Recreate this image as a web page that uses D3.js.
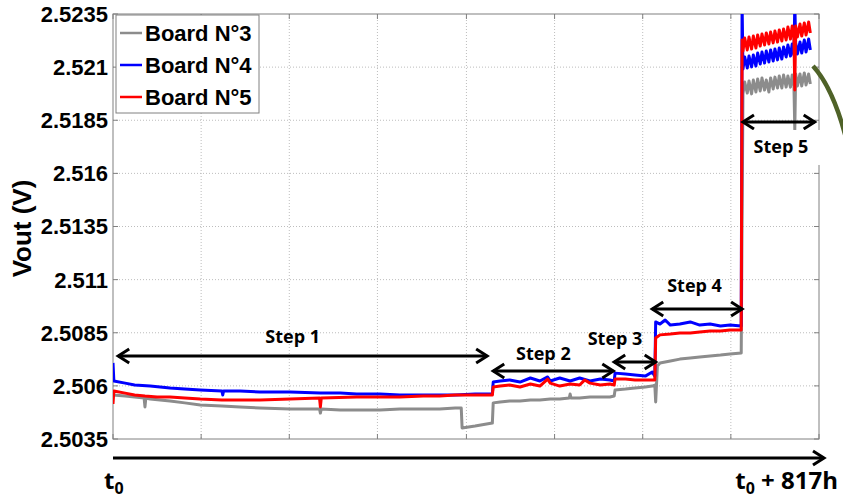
<!DOCTYPE html>
<html>
<head>
<meta charset="utf-8">
<script src="https://cdn.jsdelivr.net/npm/d3@7"></script>
<style>
  body { margin: 0; background: #fff; }
  svg { display: block; }
</style>
</head>
<body>
<script>
// Valores del eje Y (V) y divisiones del eje X (horas)
var yTicks = [2.5035, 2.506, 2.5085, 2.511, 2.5135, 2.516, 2.5185, 2.521, 2.5235];
var xTicks = [0, 102, 204, 306, 409, 511, 613, 715, 817];

var boardNames = ["Board N°3", "Board N°4", "Board N°5"];
var boardColors = ["#8c8c8c", "#0000ff", "#ff0000"];

// [hora, Vout]
var board3 = [
  [0, 2.50557], [14, 2.50552], [25, 2.50548], [36, 2.50543], [37, 2.50501], [38, 2.50543],
  [43, 2.50538], [66, 2.50529], [83, 2.5052], [101, 2.5051], [126, 2.50505], [147, 2.50501],
  [170, 2.50496], [205, 2.50491], [239, 2.50491], [240, 2.50472], [241, 2.50491], [263, 2.50486],
  [282, 2.50486], [309, 2.50486], [332, 2.50491], [359, 2.50491], [378, 2.50491], [396, 2.50496],
  [403, 2.50496], [404, 2.50402], [419, 2.50411], [439, 2.50425],
  [440, 2.5052], [448, 2.50524], [459, 2.50529], [471, 2.50529], [483, 2.50534], [494, 2.50534],
  [506, 2.50538], [517, 2.50538], [528, 2.50543], [529, 2.50562], [530, 2.50543], [540, 2.50543],
  [552, 2.50548], [564, 2.50548], [575, 2.50548], [580, 2.50552],
  [581, 2.50581], [593, 2.50585], [604, 2.5059], [616, 2.50595], [624, 2.50599], [627, 2.50604],
  [628, 2.50524], [630, 2.50694], [633, 2.50708], [645, 2.50717], [656, 2.50726], [668, 2.50731],
  [679, 2.50736], [691, 2.50741], [703, 2.50745], [714, 2.5075], [727, 2.50755],
  [729, 2.51974], [731, 2.5203], [734, 2.51978], [736, 2.52035], [739, 2.51974], [741, 2.52039],
  [744, 2.51983], [746, 2.52044], [749, 2.51988], [751, 2.52049], [754, 2.51992], [756, 2.52039],
  [759, 2.51983], [761, 2.52049], [764, 2.51997], [766, 2.52053], [769, 2.52002], [771, 2.52058],
  [774, 2.52002], [776, 2.52063], [779, 2.52006], [781, 2.52058], [784, 2.52006], [786, 2.52063],
  [788, 2.52011], [789, 2.51804], [790, 2.52068], [792, 2.52011], [795, 2.52068], [797, 2.52011],
  [800, 2.52072], [802, 2.52016], [805, 2.52068], [807, 2.52021]
];

var board4 = [
  [0, 2.50708], [1, 2.50623], [14, 2.50613], [25, 2.50604], [43, 2.50599], [66, 2.5059],
  [83, 2.50585], [101, 2.50581], [126, 2.50576], [127, 2.50557], [128, 2.50576], [147, 2.50576],
  [170, 2.50571], [205, 2.50571], [240, 2.50566], [263, 2.50566], [282, 2.50562], [309, 2.50562],
  [332, 2.50557], [359, 2.50557], [378, 2.50557], [396, 2.50557], [419, 2.50562], [439, 2.50562],
  [440, 2.50618], [448, 2.50623], [459, 2.50628], [471, 2.50618], [483, 2.50637], [494, 2.50623],
  [503, 2.50642], [506, 2.50623], [517, 2.50637], [529, 2.50623], [540, 2.50637], [552, 2.50623],
  [564, 2.50632], [575, 2.50628], [580, 2.50623],
  [581, 2.5066], [593, 2.50656], [604, 2.50651], [616, 2.50646], [624, 2.50665], [627, 2.50646],
  [628, 2.50901], [633, 2.50891], [639, 2.5091], [645, 2.50886], [656, 2.50891], [668, 2.50901],
  [679, 2.50886], [691, 2.50891], [703, 2.50882], [714, 2.50886], [727, 2.50882],
  [728, 2.524], [729, 2.52091], [731, 2.52148], [734, 2.52096], [736, 2.52152], [739, 2.52101],
  [741, 2.52157], [744, 2.52105], [746, 2.52166], [749, 2.52115], [751, 2.52171], [754, 2.52119],
  [756, 2.52176], [759, 2.52124], [761, 2.52181], [764, 2.52129], [766, 2.52185], [769, 2.52134],
  [771, 2.5219], [774, 2.52138], [776, 2.52195], [779, 2.52148], [781, 2.52204], [784, 2.52152],
  [786, 2.52209], [788, 2.52157], [789, 2.524], [790, 2.52214], [792, 2.52162], [795, 2.52218],
  [797, 2.52166], [800, 2.52228], [802, 2.52171], [805, 2.52232], [807, 2.52181]
];

var board5 = [
  [0, 2.50515], [1, 2.50576], [14, 2.50566], [25, 2.50557], [37, 2.50552], [51, 2.50548],
  [66, 2.50548], [83, 2.50543], [101, 2.50538], [126, 2.50534], [147, 2.50534], [170, 2.50534],
  [205, 2.50538], [239, 2.50543], [240, 2.50501], [241, 2.50543], [282, 2.50548], [309, 2.50548],
  [332, 2.50548], [359, 2.50552], [378, 2.50552], [396, 2.50557], [419, 2.50557], [439, 2.50557],
  [440, 2.50595], [448, 2.50599], [459, 2.50604], [471, 2.50595], [483, 2.50609], [494, 2.50599],
  [503, 2.50632], [506, 2.50613], [517, 2.50599], [529, 2.50609], [540, 2.50604], [546, 2.50628],
  [552, 2.50613], [564, 2.50604], [575, 2.50609], [580, 2.50604],
  [581, 2.50632], [593, 2.50632], [604, 2.50628], [616, 2.50628], [627, 2.50628],
  [628, 2.50825], [633, 2.5084], [645, 2.50844], [656, 2.50849], [668, 2.50849], [679, 2.50853],
  [691, 2.50858], [703, 2.50858], [714, 2.50863], [727, 2.50863],
  [728, 2.52228], [729, 2.52176], [731, 2.52237], [734, 2.52181], [736, 2.52242], [739, 2.52185],
  [741, 2.52246], [744, 2.5219], [746, 2.52251], [749, 2.52199], [751, 2.52256], [754, 2.52204],
  [756, 2.52261], [759, 2.52209], [761, 2.52265], [764, 2.52214], [766, 2.5227], [769, 2.52218],
  [771, 2.52275], [774, 2.52223], [776, 2.52279], [779, 2.52228], [781, 2.52289], [784, 2.52232],
  [786, 2.52294], [788, 2.52237], [789, 2.51992], [790, 2.52294], [792, 2.52242], [795, 2.52303],
  [797, 2.52246], [800, 2.52308], [802, 2.52251], [805, 2.52312], [807, 2.52261]
];

// Etapas: inicio, fin (horas), nivel de la flecha (V), posición de la etiqueta
var stepNames = ["Step 1", "Step 2", "Step 3", "Step 4", "Step 5"];
var stepStart = [6, 440, 580, 624, 729];
var stepEnd = [433, 579, 628, 728, 812];
var stepLevel = [2.50741, 2.5067, 2.50712, 2.50962, 2.51842];
var stepLabelHour = [208, 498, 581, 673, 773];
var stepLabelLevel = [2.50802, 2.50722, 2.50792, 2.51042, 2.51696];

var W = 843, H = 501;
var svg = d3.select("body").append("svg")
  .attr("width", W)
  .attr("height", H);

var x = d3.scaleLinear().domain([0, 817]).range([113, 819]);
var y = d3.scaleLinear().domain([2.5035, 2.5235]).range([439, 14]);

var x0 = x.range()[0], x1 = x.range()[1];
var yTop = y.range()[1], yBot = y.range()[0];

// Rejilla punteada
svg.append("g").selectAll("line")
  .data(xTicks.slice(1, -1))
  .enter().append("line")
  .attr("x1", d => x(d)).attr("x2", d => x(d))
  .attr("y1", yTop).attr("y2", yBot)
  .attr("stroke", "#bdbdbd").attr("stroke-dasharray", "1,2");

svg.append("g").selectAll("line")
  .data(yTicks.slice(1, -1))
  .enter().append("line")
  .attr("x1", x0).attr("x2", x1)
  .attr("y1", d => y(d)).attr("y2", d => y(d))
  .attr("stroke", "#bdbdbd").attr("stroke-dasharray", "1,2");

// Marcas hacia dentro en los cuatro lados
var tickG = svg.append("g").attr("stroke", "#808080");
yTicks.forEach(function(t) {
  tickG.append("line").attr("x1", x0).attr("x2", x0 + 5).attr("y1", y(t)).attr("y2", y(t));
  tickG.append("line").attr("x1", x1 - 5).attr("x2", x1).attr("y1", y(t)).attr("y2", y(t));
});
xTicks.forEach(function(t) {
  tickG.append("line").attr("x1", x(t)).attr("x2", x(t)).attr("y1", yBot).attr("y2", yBot - 5);
  tickG.append("line").attr("x1", x(t)).attr("x2", x(t)).attr("y1", yTop).attr("y2", yTop + 5);
});

svg.append("rect")
  .attr("x", x0).attr("y", yTop)
  .attr("width", x1 - x0).attr("height", yBot - yTop)
  .attr("fill", "none").attr("stroke", "#808080");

// Etiquetas del eje Y
svg.append("g").selectAll("text")
  .data(yTicks)
  .enter().append("text")
  .attr("x", x0 - 5)
  .attr("y", d => y(d))
  .attr("dy", "0.36em")
  .attr("text-anchor", "end")
  .style("font", "bold 22px 'Liberation Sans', Arial, sans-serif")
  .text(d => d);

svg.append("text")
  .attr("transform", "translate(31," + ((yTop + yBot) / 2 + 2) + ") rotate(-90)")
  .attr("text-anchor", "middle")
  .style("font", "bold 26px 'Liberation Sans', Arial, sans-serif")
  .text("Vout (V)");

// Series
svg.append("clipPath").attr("id", "plot")
  .append("rect")
  .attr("x", x0).attr("y", yTop)
  .attr("width", x1 - x0).attr("height", yBot - yTop);

var line = d3.line()
  .x(d => x(d[0]))
  .y(d => y(d[1]));

svg.append("g").attr("clip-path", "url(#plot)")
  .selectAll("path")
  .data([board3, board4, board5])
  .enter().append("path")
  .attr("d", line)
  .attr("fill", "none")
  .attr("stroke", (d, i) => boardColors[i])
  .attr("stroke-width", 3)
  .attr("stroke-linejoin", "round");

// Flechas
function chevron(g, tx, ty, dir) {
  g.append("path")
    .attr("d", "M" + (tx - dir * 11) + "," + (ty - 7) + "L" + tx + "," + ty + "L" + (tx - dir * 11) + "," + (ty + 7))
    .attr("fill", "none").attr("stroke", "#000").attr("stroke-width", 3);
}

var steps = svg.append("g");
stepNames.forEach(function(name, i) {
  var a = x(stepStart[i]), b = x(stepEnd[i]), ly = y(stepLevel[i]);
  steps.append("line")
    .attr("x1", a).attr("x2", b).attr("y1", ly).attr("y2", ly)
    .attr("stroke", "#000").attr("stroke-width", 3);
  chevron(steps, a, ly, -1);
  chevron(steps, b, ly, 1);
  if (i === 4) {
    // caja blanca detrás de la etiqueta Step 5
    steps.append("rect")
      .attr("x", 746).attr("y", y(stepLabelLevel[i]) - 23)
      .attr("width", 77).attr("height", 35)
      .attr("fill", "#fff");
  }
  steps.append("text")
    .attr("x", x(stepLabelHour[i]))
    .attr("y", y(stepLabelLevel[i]))
    .attr("text-anchor", "middle")
    .style("font", "bold 18px 'Open Sans', sans-serif")
    .text(name);
});

// Leyenda
var legend = svg.append("g");
legend.append("rect")
  .attr("x", 116).attr("y", 15).attr("width", 143).attr("height", 98)
  .attr("fill", "#fff").attr("stroke", "#808080");
boardNames.forEach(function(n, i) {
  var ly = 33 + i * 32;
  legend.append("line")
    .attr("x1", 120).attr("x2", 142).attr("y1", ly).attr("y2", ly)
    .attr("stroke", boardColors[i]).attr("stroke-width", 2.5);
  legend.append("text")
    .attr("x", 145).attr("y", ly).attr("dy", "0.36em")
    .style("font", "bold 22px 'Liberation Sans', Arial, sans-serif")
    .text(n);
});

// Flecha del tiempo
var ta = svg.append("g");
ta.append("line")
  .attr("x1", x0).attr("x2", 824).attr("y1", 458).attr("y2", 458)
  .attr("stroke", "#000").attr("stroke-width", 3);
chevron(ta, 824, 458, 1);

var t0 = svg.append("text")
  .attr("x", 104).attr("y", 489)
  .style("font", "bold 24px 'Open Sans', sans-serif");
t0.append("tspan").text("t");
t0.append("tspan").attr("dy", 5).style("font-size", "16px").text("0");

var t1 = svg.append("text")
  .attr("x", 838).attr("y", 489)
  .attr("text-anchor", "end")
  .style("font", "bold 24px 'Open Sans', sans-serif");
t1.append("tspan").text("t");
t1.append("tspan").attr("dy", 5).style("font-size", "16px").text("0");
t1.append("tspan").attr("dy", -5).text(" + 817h");

// Arco verde a la derecha
svg.append("path")
  .attr("d", "M813,66 Q833,88 846,138")
  .attr("fill", "none")
  .attr("stroke", "#4f6228")
  .attr("stroke-width", 4.5);
</script>
</body>
</html>
